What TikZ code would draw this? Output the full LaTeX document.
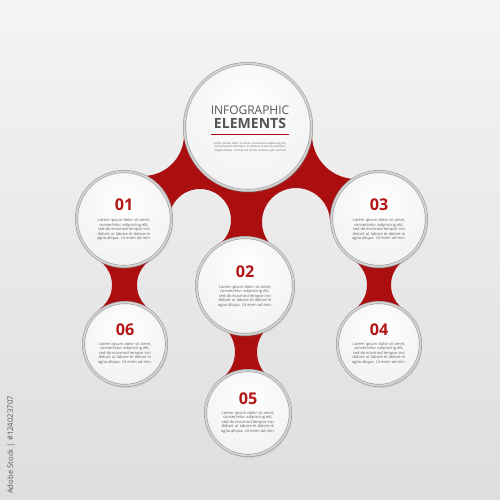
\documentclass[tikz,border=0pt]{standalone}
\usepackage{fontspec}
\setmainfont{Open Sans}
\usetikzlibrary{shadows}
\definecolor{bgtop}{RGB}{244,244,244}
\definecolor{bgbot}{RGB}{222,222,222}
\definecolor{linkred}{RGB}{170,14,14}
\definecolor{numred}{RGB}{180,22,22}
\definecolor{ringgray}{RGB}{155,155,155}
\definecolor{ringlight}{RGB}{212,212,212}
\definecolor{fillgray}{RGB}{218,218,218}
\definecolor{textgray}{RGB}{95,95,95}
\definecolor{titlegray}{RGB}{85,85,85}
\pgfdeclareradialshading{bubbleshade}{\pgfpoint{0bp}{10bp}}{%
  color(0bp)=(white); color(30bp)=(white!95!black);
  color(48bp)=(fillgray); color(70bp)=(fillgray)}
\tikzset{
  bubble/.style={circle, inner sep=0pt, draw=ringgray, line width=0.3mm,
    double=ringlight, double distance=0.9mm, shading=bubbleshade,
    drop shadow={opacity=0.18, shadow xshift=0.8mm, shadow yshift=-1.2mm}},
  numlabel/.style={anchor=base, text=numred,
    font=\fontsize{23}{23}\selectfont\bfseries},
  lorem/.style={align=center, inner sep=0pt, text=textgray,
    font=\fontsize{5.7}{6.4}\selectfont},
}
\newcommand{\loremtxt}{Lorem ipsum dolor sit amet,\\ consectetur adipiscing elit,\\
  sed do eiusmod tempor inci\\ didunt ut labore et dolore m\\ agna aliqua. Ut enim ad min.}
\begin{document}
\begin{tikzpicture}[x=0.5mm,y=-0.5mm]
  \shade[top color=bgtop, bottom color=bgbot] (0,0) rectangle (500,500);
  \useasboundingbox (0,0) rectangle (500,500);
  % red links, carved out by round holes
  \begin{scope}[even odd rule]
    \clip (0,0) rectangle (500,500)
      (143,135) circle[radius=41] (356,135) circle[radius=44]
      (200,220) circle[radius=31] (296,222) circle[radius=34]
      (82,285) circle[radius=30] (167,285) circle[radius=30]
      (337,285) circle[radius=30] (421,285) circle[radius=30]
      (202,352) circle[radius=33] (290,352) circle[radius=33];
    \fill[linkred] (248,127) -- (143,135) -- (124,219) -- (200,220)
      -- (245,286) -- (296,222) -- (379,219) -- (356,135) -- cycle;
    \fill[linkred] (124,219) -- (167,285) -- (125,344) -- (82,285) -- cycle;
    \fill[linkred] (379,219) -- (421,285) -- (379,344) -- (337,285) -- cycle;
    \fill[linkred] (245,286) -- (290,352) -- (248,413) -- (202,352) -- cycle;
  \end{scope}
  % circles
  \node[bubble, minimum size=63.5mm] (head) at (248,127) {};
  \node[bubble, minimum size=47.5mm] (c01) at (124,219) {};
  \node[bubble, minimum size=48.5mm] (c02) at (245,286) {};
  \node[bubble, minimum size=47.5mm] (c03) at (379,219) {};
  \node[bubble, minimum size=41.5mm] (c04) at (379,344) {};
  \node[bubble, minimum size=42.5mm] (c05) at (248,413) {};
  \node[bubble, minimum size=41.5mm] (c06) at (125,344) {};
  % title
  \node[anchor=base, text=titlegray, font=\fontsize{17}{17}\selectfont]
    (ttl1) at (250,115) {INFOGRAPHIC};
  \node[anchor=base, text=titlegray, font=\fontsize{20}{20}\selectfont\bfseries]
    (ttl2) at (250,129) {ELEMENTS};
  \draw[linkred, line width=0.75mm] (211,134.5) -- (289,134.5);
  \node[lorem, font=\fontsize{4}{5}\selectfont] (ttl3) at (250,147)
    {Lorem ipsum dolor sit amet, consectetur adipiscing elit,\\
     sed do eiusmod tempor incididunt ut labore et dolore\\
     magna aliqua. Ut enim ad minim veniam, quis nostrud};
  % numbers and texts
  \node[numlabel] (n01) at (124,210.5) {01};
  \node[lorem] (t01) at (124,229.5) {\loremtxt};
  \node[numlabel] (n02) at (245,277.5) {02};
  \node[lorem] (t02) at (245,296) {\loremtxt};
  \node[numlabel] (n03) at (379,210.5) {03};
  \node[lorem] (t03) at (379,229.5) {\loremtxt};
  \node[numlabel] (n04) at (379,335.5) {04};
  \node[lorem] (t04) at (379,353) {\loremtxt};
  \node[numlabel] (n05) at (248,404.5) {05};
  \node[lorem] (t05) at (248,422) {\loremtxt};
  \node[numlabel] (n06) at (125,335.5) {06};
  \node[lorem] (t06) at (125,353) {\loremtxt};
  \node[rotate=90, text=black!65, font=\fontsize{11}{11}\selectfont]
    (stock) at (11,445) {Adobe Stock | \#124023707};
\end{tikzpicture}
\end{document}
